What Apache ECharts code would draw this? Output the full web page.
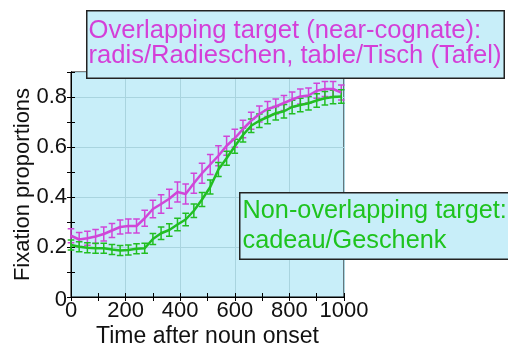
<!DOCTYPE html>
<html>
<head>
<meta charset="utf-8">
<script src="https://cdn.jsdelivr.net/npm/echarts@6/dist/echarts.min.js"></script>
<style>
html, body { margin: 0; padding: 0; background: #fff; }
#main { width: 508px; height: 345px; }
</style>
</head>
<body>
<div id="main"></div>
<script>
// time after noun onset (ms)
var times = [0, 30, 60, 90, 120, 150, 180, 210, 240, 270, 300, 330, 360, 390, 420, 450, 480,
	510, 540, 570, 600, 630, 660, 690, 720, 750, 780, 810, 840, 870, 900, 930, 960, 990];
// overlapping target (near-cognate)
var overlapVals = [0.245, 0.230, 0.235, 0.242, 0.252, 0.266, 0.280, 0.284, 0.284, 0.315, 0.352, 0.372,
	0.393, 0.420, 0.412, 0.455, 0.495, 0.530, 0.565, 0.605, 0.635, 0.672, 0.705, 0.732, 0.752, 0.762,
	0.776, 0.790, 0.802, 0.806, 0.825, 0.832, 0.832, 0.818];
var overlapErr = [0.028, 0.028, 0.028, 0.028, 0.028, 0.028, 0.028, 0.028, 0.028, 0.032, 0.035, 0.037,
	0.038, 0.04, 0.04, 0.04, 0.04, 0.04, 0.04, 0.038, 0.036, 0.035, 0.034, 0.032, 0.03, 0.03,
	0.03, 0.03, 0.03, 0.03, 0.03, 0.03, 0.03, 0.03];
// non-overlapping target
var nonOverlapVals = [0.208, 0.201, 0.197, 0.195, 0.195, 0.190, 0.186, 0.188, 0.193, 0.195, 0.232, 0.255,
	0.268, 0.290, 0.310, 0.345, 0.390, 0.440, 0.510, 0.555, 0.603, 0.648, 0.685, 0.705, 0.720, 0.735,
	0.743, 0.760, 0.768, 0.775, 0.786, 0.795, 0.800, 0.802];
var nonOverlapErr = [0.02, 0.02, 0.02, 0.02, 0.02, 0.02, 0.02, 0.02, 0.02, 0.02, 0.022, 0.025,
	0.025, 0.025, 0.025, 0.027, 0.028, 0.028, 0.028, 0.028, 0.028, 0.028, 0.027, 0.027, 0.027, 0.027,
	0.027, 0.027, 0.027, 0.027, 0.027, 0.027, 0.027, 0.027];

var pink = '#d046d8';
var green = '#22be22';
var bg = '#c8eef9';
var font = '"Liberation Sans", Arial, sans-serif';

function pairs(vals){
	return times.map(function(t, i){ return [t, vals[i]]; });
}
function errPairs(vals, errs){
	return times.map(function(t, i){ return [t, vals[i] - errs[i], vals[i] + errs[i]]; });
}
function errBars(color){
	return function(params, api){
		var lo = api.coord([api.value(0), api.value(1)]);
		var hi = api.coord([api.value(0), api.value(2)]);
		var w = 3.3;
		var st = { stroke: color, lineWidth: 1.5 };
		return {
			type: 'group',
			children: [
				{ type: 'line', shape: { x1: hi[0], y1: hi[1], x2: lo[0], y2: lo[1] }, style: st },
				{ type: 'line', shape: { x1: hi[0] - w, y1: hi[1], x2: hi[0] + w, y2: hi[1] }, style: st },
				{ type: 'line', shape: { x1: lo[0] - w, y1: lo[1], x2: lo[0] + w, y2: lo[1] }, style: st }
			]
		};
	};
}

var chart = echarts.init(document.getElementById('main'));

var axisCommon = {
	axisLine: { show: true, lineStyle: { color: '#000', width: 1 } },
	axisTick: { show: true, inside: true, length: 4, lineStyle: { color: '#000' } },
	minorTick: { show: true, splitNumber: 2, length: 4, lineStyle: { color: '#000' } }
};

var option = {
	animation: false,
	grid: {
		left: 71, right: 164, top: 72, bottom: 48,
		outerBoundsMode: 'none', containLabel: false,
		show: true, backgroundColor: bg, borderColor: '#000', borderWidth: 1
	},
	xAxis: [
		Object.assign({
			type: 'value', min: 0, max: 1000, interval: 200,
			name: 'Time after noun onset', nameLocation: 'middle', nameGap: 28, nameMoveOverlap: false,
			nameTextStyle: { fontSize: 23, fontFamily: font, color: '#111', verticalAlign: 'top' },
			axisLabel: { fontSize: 22, fontFamily: font, color: '#111', margin: 3,
				formatter: function(v){ return String(v); } },
			splitLine: { show: true, lineStyle: { color: '#a9d4df', width: 1 } }
		}, axisCommon),
		Object.assign({
			type: 'value', min: 0, max: 1000, interval: 200, position: 'top',
			axisLabel: { show: false }, splitLine: { show: false }
		}, axisCommon)
	],
	yAxis: [
		Object.assign({
			type: 'value', min: 0, max: 0.9, interval: 0.2,
			name: 'Fixation proportions', nameLocation: 'middle', nameGap: 37, nameMoveOverlap: false,
			nameTextStyle: { fontSize: 22, fontFamily: font, color: '#111' },
			axisLabel: { fontSize: 22, fontFamily: font, color: '#111', margin: 4, showMaxLabel: false,
				formatter: function(v){ return v === 0 ? '{z|0}' : String(v); },
				rich: { z: { fontSize: 22, fontFamily: font, color: '#111', padding: [6, 0, 0, 0] } } },
			splitLine: { show: true, lineStyle: { color: '#a9d4df', width: 1 } }
		}, axisCommon),
		Object.assign({
			type: 'value', min: 0, max: 0.9, interval: 0.2, position: 'right',
			axisLabel: { show: false }, splitLine: { show: false }
		}, axisCommon)
	],
	series: [
		{
			type: 'custom', renderItem: errBars(pink), data: errPairs(overlapVals, overlapErr),
			encode: { x: 0, y: [1, 2] }, z: 3
		},
		{
			type: 'custom', renderItem: errBars(green), data: errPairs(nonOverlapVals, nonOverlapErr),
			encode: { x: 0, y: [1, 2] }, z: 3
		},
		{
			name: 'Overlapping', type: 'line', data: pairs(overlapVals), showSymbol: false,
			lineStyle: { color: pink, width: 2.5 }, z: 4
		},
		{
			name: 'Non-overlapping', type: 'line', data: pairs(nonOverlapVals), showSymbol: false,
			lineStyle: { color: green, width: 2.5 }, z: 5
		}
	],
	graphic: [
		{
			type: 'text', left: 86, top: 10, z: 100,
			style: {
				text: 'Overlapping target (near-cognate):\nradis/Radieschen, table/Tisch (Tafel)',
				fill: '#d43fd8', font: '25.6px ' + font, lineHeight: 25,
				backgroundColor: bg, borderColor: '#222', borderWidth: 1.5,
				padding: [7, 2, 9, 1]
			}
		},
		{
			type: 'text', left: 239, top: 192, z: 100,
			style: {
				text: 'Non-overlapping target:\ncadeau/Geschenk',
				fill: '#1ec31e', font: '25.3px ' + font, lineHeight: 30,
				backgroundColor: bg, borderColor: '#222', borderWidth: 1.5,
				padding: [3, 12, 2, 2]
			}
		}
	]
};

chart.setOption(option);
</script>
</body>
</html>
